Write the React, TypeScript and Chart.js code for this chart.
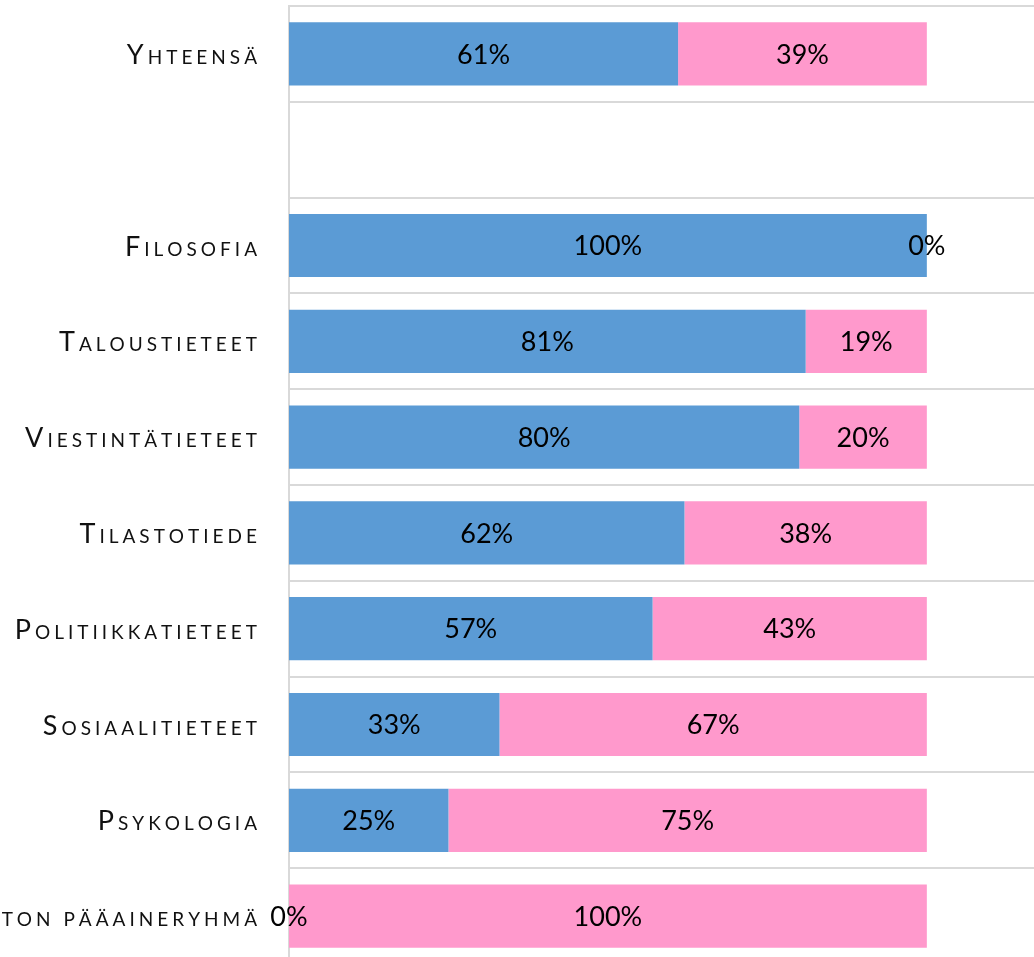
import React, { useEffect, useRef } from "react";
import { Chart, registerables } from "chart.js";

Chart.register(...registerables);

const categories = [
  "Yhteensä",
  "",
  "Filosofia",
  "Taloustieteet",
  "Viestintätieteet",
  "Tilastotiede",
  "Politiikkatieteet",
  "Sosiaalitieteet",
  "Psykologia",
  "Tuntematon pääaineryhmä",
];
const seriesNames = ["Miehet", "Naiset"];
const blueValues: (number | null)[] = [61, null, 100, 81, 80, 62, 57, 33, 25, 0];
const pinkValues: (number | null)[] = [39, null, 0, 19, 20, 38, 43, 67, 75, 100];

const FONT = "Lato, 'Open Sans', sans-serif";

const labelPlugin = {
  id: "smallCapsLabels",
  afterDraw(chart: any) {
    const ctx = chart.ctx;
    const yScale = chart.scales.y;
    ctx.save();
    ctx.fillStyle = "#111";
    ctx.textBaseline = "alphabetic";
    ctx.textAlign = "left";
    const rightX = 257;
    const big = 27;
    const small = 19;
    const spacing = 4.0;
    categories.forEach((label, i) => {
      if (!label) return;
      const y = yScale.getPixelForValue(i) + 10;
      const chars: { ch: string; size: number }[] = [];
      let k = 0;
      for (const ch of label) {
        chars.push({ ch: ch.toUpperCase(), size: k === 0 ? big : small });
        k++;
      }
      let total = 0;
      const widths = chars.map((c, j) => {
        ctx.font = `${c.size}px ${FONT}`;
        const w = ctx.measureText(c.ch).width + (j < chars.length - 1 ? spacing : 0);
        total += w;
        return w;
      });
      let x = rightX - total;
      chars.forEach((c, j) => {
        ctx.font = `${c.size}px ${FONT}`;
        ctx.fillText(c.ch, x, y);
        x += widths[j];
      });
    });
    ctx.restore();
  },
};

const valuePlugin = {
  id: "valueLabels",
  afterDatasetsDraw(chart: any) {
    const ctx = chart.ctx;
    ctx.save();
    ctx.fillStyle = "#000";
    ctx.font = `27px ${FONT}`;
    ctx.textAlign = "center";
    ctx.textBaseline = "middle";
    chart.data.datasets.forEach((ds: any, di: number) => {
      const meta = chart.getDatasetMeta(di);
      meta.data.forEach((el: any, i: number) => {
        const v = ds.data[i];
        if (v === null || v === undefined) return;
        const { x, base, y } = el.getProps(["x", "base", "y"], true);
        ctx.fillText(`${v}%`, (x + base) / 2, y + 1);
      });
    });
    ctx.restore();
  },
};

export default function App() {
  const ref = useRef<HTMLCanvasElement | null>(null);
  useEffect(() => {
    if (!ref.current) return;
    const chart = new Chart(ref.current, {
      type: "bar",
      data: {
        labels: categories,
        datasets: [
          {
            label: seriesNames[0],
            data: blueValues,
            backgroundColor: "#5B9BD5",
            barPercentage: 0.66,
            categoryPercentage: 1,
          },
          {
            label: seriesNames[1],
            data: pinkValues,
            backgroundColor: "#FF99CC",
            barPercentage: 0.66,
            categoryPercentage: 1,
          },
        ],
      },
      options: {
        indexAxis: "y",
        animation: false,
        responsive: false,
        maintainAspectRatio: false,
        layout: { padding: { left: 289, top: 6, right: 0, bottom: 6 } },
        plugins: {
          legend: { display: false },
          tooltip: { enabled: false },
        },
        scales: {
          x: {
            stacked: true,
            display: false,
            min: 0,
            max: 116.8,
          },
          y: {
            stacked: true,
            offset: true,
            grid: {
              display: true,
              offset: true,
              color: "#d9d9d9",
              lineWidth: 2,
              drawTicks: false,
            },
            border: { display: true, color: "#d9d9d9", width: 2 },
            ticks: { display: false },
          },
        },
      },
      plugins: [labelPlugin, valuePlugin],
    });
    return () => chart.destroy();
  }, []);
  return (
    <div style={{ position: "fixed", left: 0, top: 0, width: 1034, height: 957, overflow: "hidden" }}>
      <canvas ref={ref} width={1034} height={970} style={{ display: "block" }} />
    </div>
  );
}
